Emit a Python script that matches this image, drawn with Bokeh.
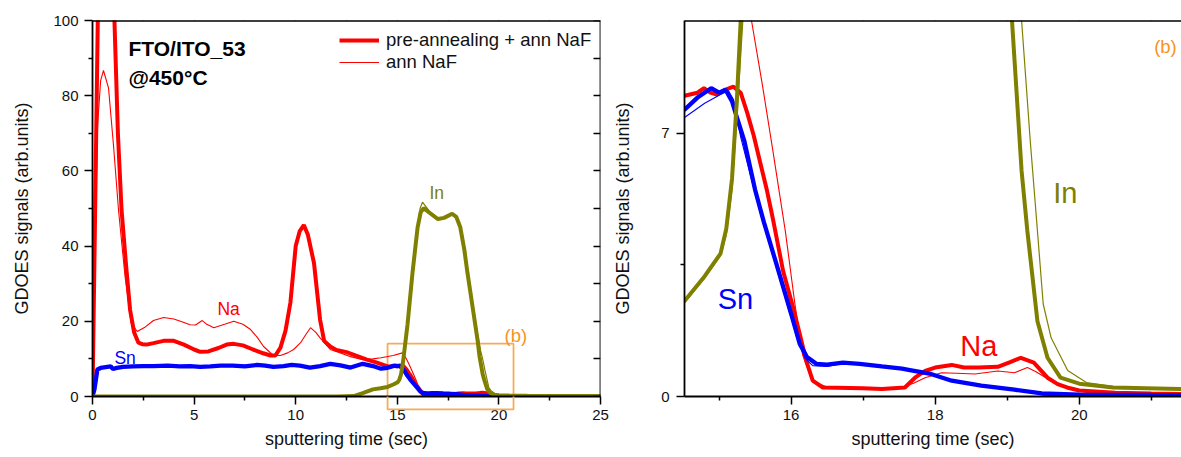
from bokeh.plotting import figure
from bokeh.layouts import row
from bokeh.models import (Range1d, LinearAxis, FixedTicker, Legend, LegendItem)
from bokeh.core.properties import value
from bokeh.embed import file_html
from bokeh.resources import INLINE

FONT = "Liberation Sans"

# ---------------- data ----------------
na_pre_t = [0, 0.1, 0.26, 0.5, 0.8, 1.08, 1.25, 1.43, 1.65, 1.85, 2.05, 2.26, 2.45, 2.66, 3.0, 3.5, 4.0, 4.5,
            5.0, 5.3, 5.7, 6.2, 6.6, 6.95, 7.4, 7.9, 8.4, 8.76, 9.0, 9.25, 9.5, 9.74, 10.0, 10.2, 10.4, 10.6,
            10.9, 11.2, 11.4, 11.7, 12.0, 12.5, 13.0, 13.5, 14.0, 14.52, 14.7, 14.79, 14.88, 14.97, 15.09,
            15.2, 15.3, 15.39, 15.48, 15.57, 15.66, 15.75, 15.89, 16.03, 16.12, 16.21, 16.3, 16.44, 17.0,
            17.26, 17.58, 17.72, 17.86, 18.0, 18.23, 18.4, 18.6, 18.87, 19.05, 19.19, 19.37, 19.56, 19.7,
            19.83, 20.0, 20.5, 21.0, 22.0, 25.0]
na_pre_v = [0, 38, 100, 130, 130, 100, 70, 49.6, 35, 23, 17, 14.3, 13.9, 13.8, 14.2, 14.8, 14.8, 13.8,
            12.5, 11.9, 12.0, 12.9, 13.8, 14.0, 13.6, 12.5, 11.5, 10.9, 10.9, 13, 17.5, 25, 40, 44, 45.6, 43,
            35.5, 20.4, 14.8, 13.3, 12.4, 11.8, 10.8, 9.8, 9.0, 8.0, 8.08, 8.2, 8.08, 8.03, 8.16,
            8.24, 8.08, 7.55, 6.95, 6.23, 5.52, 4.7, 3.33, 2.35, 1.66, 0.95, 0.42, 0.24, 0.22,
            0.2, 0.24, 0.5, 0.68, 0.77, 0.84, 0.77, 0.77, 0.79, 0.92, 1.03, 0.9, 0.5, 0.33,
            0.24, 0.16, 0.1, 0.08, 0.05, 0.03]

na_ann_t = [0, 0.1, 0.25, 0.4, 0.54, 0.79, 1.03, 1.28, 1.6, 1.9, 2.2, 2.6, 3.0, 3.5, 4.0, 4.33, 4.8, 5.07,
            5.4, 5.6, 5.97, 6.5, 6.95, 7.4, 7.78, 8.1, 8.42, 8.9, 9.25, 9.6, 9.9, 10.24, 10.5, 10.73, 11.0,
            11.2, 11.7, 12.2, 12.7, 13.3, 13.8, 14.2, 14.8, 15.25, 15.45, 15.6, 15.75, 15.92, 16.05, 16.16,
            16.3, 16.5, 17.0, 17.5, 17.7, 17.86, 18.09, 18.3, 18.55, 18.87, 19.1, 19.28, 19.4, 19.56, 19.8,
            20.0, 20.5, 21.0, 22.0, 25.0]
na_ann_v = [0, 35, 72, 84, 86.7, 82, 67, 49.6, 32, 19.6, 17.3, 18.5, 20.2, 21, 20.6, 20, 19.1, 19.0,
            20.2, 19.3, 18.3, 19.2, 20, 19.2, 17.8, 15.8, 13.3, 10.9, 10.9, 11.6, 12.5, 14.3, 16.5, 18.3, 17.0,
            15.6, 12.5, 11.6, 10.6, 9.8, 10.0, 10.3, 10.9, 11.6, 10.0, 8.3, 6.5, 4.4, 2.5, 1.1,
            0.4, 0.25, 0.22, 0.22, 0.35, 0.5, 0.63, 0.62, 0.6, 0.68, 0.63, 0.77, 0.66, 0.47, 0.25,
            0.15, 0.1, 0.08, 0.05, 0.03]

sn_pre_t = [0, 0.1, 0.24, 0.4, 0.65, 0.9, 1.0, 1.2, 1.5, 2.0, 2.5, 3.0, 3.7, 4.3, 4.8, 5.3, 5.8, 6.3, 6.9,
            7.5, 8.1, 8.5, 8.9, 9.4, 9.8, 10.2, 10.7, 11.2, 11.7, 12.2, 12.7, 13.3, 13.8, 14.2, 14.52, 14.7,
            14.89, 15.0, 15.09, 15.18, 15.24, 15.35, 15.5, 15.62, 15.8, 16.0, 16.12, 16.22, 16.35, 16.5,
            16.72, 16.95, 17.26, 17.54, 17.63, 17.94, 18.23, 18.64, 19.1, 19.48, 20.0, 21.0, 25.0]
sn_pre_v = [0, 2, 7.2, 7.6, 7.8, 8.0, 7.3, 7.6, 7.9, 8.0, 8.1, 8.1, 8.2, 8.0, 8.1, 7.9, 8.0, 8.2, 8.2,
            8.0, 8.4, 8.2, 7.9, 8.1, 8.4, 8.2, 7.7, 8.1, 8.7, 8.3, 7.7, 8.7, 8.1, 7.4, 7.63, 7.95,
            8.2, 8.08, 8.16, 7.85, 7.47, 6.8, 5.5, 4.65, 3.5, 2.2, 1.4, 1.05, 0.87, 0.85,
            0.9, 0.87, 0.8, 0.74, 0.71, 0.6, 0.42, 0.29, 0.18, 0.08, 0.05, 0.04, 0.02]

sn_ann_t = [0, 0.1, 0.24, 0.4, 0.65, 0.9, 1.0, 1.2, 1.5, 2.0, 3.0, 3.7, 4.8, 5.3, 6.3, 6.9, 8.1, 8.9, 9.8,
            10.7, 11.7, 12.7, 13.3, 14.2, 14.52, 14.8, 15.02, 15.13, 15.2, 15.3, 15.5, 15.6, 15.8, 16.0,
            16.1, 16.2, 16.3, 16.5, 16.72, 16.95, 17.26, 17.63, 17.94, 18.23, 18.64, 19.1, 19.48, 20.0,
            21.0, 25.0]
sn_ann_v = [0, 1.8, 6.8, 7.5, 7.9, 8.1, 7.5, 7.6, 7.9, 8.0, 8.1, 8.2, 8.1, 7.9, 8.2, 8.2, 8.4, 7.9, 8.4,
            7.7, 8.6, 7.8, 8.6, 7.5, 7.42, 7.8, 8.03, 8.13, 7.9, 6.9, 5.4, 4.7, 3.4, 2.1,
            1.45, 1.0, 0.82, 0.8, 0.88, 0.85, 0.8, 0.71, 0.6, 0.42, 0.29, 0.18, 0.08, 0.05,
            0.04, 0.02]

in_pre_t = [0, 12.0, 12.85, 13.3, 13.8, 14.17, 14.52, 14.8, 15.02, 15.1, 15.18, 15.25, 15.3, 15.5, 15.75,
            16.0, 16.15, 16.3, 16.6, 17.0, 17.3, 17.7, 17.9, 18.1, 18.3, 18.45, 18.7, 18.95, 19.05, 19.2,
            19.28, 19.42, 19.56, 19.74, 20.0, 20.47, 21.4, 25.0]
in_pre_v = [0, 0, 0.1, 0.9, 1.9, 2.2, 2.54, 3.2, 3.8, 4.46, 5.8, 8.0, 10.0, 19, 33,
            45, 49, 50.1, 48.8, 47.2, 47.5, 48.6, 47.8, 45, 39, 33, 24, 15, 10.5, 6.0,
            4.4, 2.0, 1.03, 0.5, 0.34, 0.24, 0.2, 0.15]

in_ann_t = [0, 12.0, 12.85, 13.3, 13.8, 14.17, 14.52, 14.8, 15.02, 15.1, 15.18, 15.25, 15.33, 15.5, 15.75,
            16.0, 16.12, 16.24, 16.6, 17.0, 17.3, 17.7, 17.9, 18.1, 18.3, 18.45, 18.7, 18.95, 19.1, 19.2,
            19.32, 19.42, 19.5, 19.61, 19.84, 20.1, 20.5, 21.4, 25.0]
in_ann_v = [0, 0, 0.1, 0.9, 1.9, 2.2, 2.5, 3.15, 3.75, 4.3, 5.5, 7.5, 10.0, 18, 32,
            45, 50, 51.7, 49.2, 47.4, 47.6, 48.7, 48.0, 45.5, 39.5, 34, 25, 16.5, 12.2, 10.0,
            6.8, 4.4, 2.46, 1.56, 0.69, 0.37, 0.26, 0.2, 0.15]

left_xticks = [0, 5, 10, 15, 20, 25]
left_xminor = [2.5, 7.5, 12.5, 17.5, 22.5]
left_yticks = [0, 20, 40, 60, 80, 100]
left_yminor = [10, 30, 50, 70, 90]
left_right_ticks = [0, 10, 20, 30, 40, 50, 60, 70, 80, 90, 100]
right_xticks = [16, 18, 20]
right_xminor = [15, 17, 19, 21]
right_yticks = [0, 7]
right_yminor = [3.5]

# zoom box (b): t from 14.52 to 20.72, signal from -3.45 to 14.06
box_t = [14.52, 20.72]
box_v = [-3.45, 14.06]

RED = "#ff0000"
BLUE = "#0000ff"
OLIVE = "#808000"
ORANGE = "#f7931e"
BOXC = "#f6ab5a"

TICK_FS = "15px"
LAB_FS = "18px"


def style_axis(ax, major, minor, out_major=8, out_minor=4):
    ax.ticker = FixedTicker(ticks=major, minor_ticks=minor)
    ax.axis_line_width = 1.8
    ax.axis_line_color = "black"
    ax.major_tick_line_width = 1.5
    ax.minor_tick_line_width = 1.5
    ax.major_tick_line_color = "black"
    ax.minor_tick_line_color = "black"
    ax.major_tick_out = out_major
    ax.minor_tick_out = out_minor
    ax.major_tick_in = 0
    ax.minor_tick_in = 0
    ax.major_label_text_font = FONT
    ax.major_label_text_color = "#111111"
    ax.major_label_text_font_size = TICK_FS
    ax.axis_label_text_font = FONT
    ax.axis_label_text_font_style = "normal"
    ax.axis_label_text_font_size = LAB_FS
    ax.axis_label_text_color = "#111111"


def tick_axis(p, side, ticks, length, inward=False, loc=None):
    # an axis that carries only (minor) tick marks, hence no tick labels at all
    ax = LinearAxis(ticker=FixedTicker(ticks=[], minor_ticks=ticks))
    ax.axis_line_color = "black"
    ax.axis_line_width = 1.8
    ax.major_tick_out = 0
    ax.major_tick_in = 0
    ax.minor_tick_line_color = "black"
    ax.minor_tick_line_width = 1.5
    ax.minor_tick_out = 0 if inward else length
    ax.minor_tick_in = length if inward else 0
    ax.major_label_standoff = 0
    if loc is not None:
        ax.fixed_location = loc
    p.add_layout(ax, side)
    return ax


def draw_series(p):
    r1 = p.line(na_pre_t, na_pre_v, line_color=RED, line_width=4)
    r2 = p.line(na_ann_t, na_ann_v, line_color=RED, line_width=1.1)
    p.line(sn_pre_t, sn_pre_v, line_color=BLUE, line_width=4.3)
    p.line(sn_ann_t, sn_ann_v, line_color=BLUE, line_width=1.1)
    p.line(in_pre_t, in_pre_v, line_color=OLIVE, line_width=4)
    p.line(in_ann_t, in_ann_v, line_color=OLIVE, line_width=1.2)
    return r1, r2


# ---------------- left panel ----------------
p1 = figure(width=610, height=457, output_backend="svg", toolbar_location=None,
            x_range=Range1d(0, 25), y_range=Range1d(0, 100),
            min_border_left=92, min_border_right=10, min_border_top=20, min_border_bottom=60,
            x_axis_label="sputtering time (sec)", y_axis_label="GDOES signals (arb.units)")
p1.outline_line_color = None
p1.grid.visible = False
p1.background_fill_color = "white"
p1.border_fill_color = "white"

style_axis(p1.xaxis[0], left_xticks, left_xminor)
p1.xaxis[0].major_label_standoff = 5
p1.xaxis[0].axis_label_standoff = 6
style_axis(p1.yaxis[0], left_yticks, left_yminor)
p1.yaxis[0].major_label_standoff = 6
p1.yaxis[0].axis_label_standoff = 18

tick_axis(p1, "above", left_xticks, 7, loc=100)
tick_axis(p1, "above", left_xminor, 4, loc=100)
tick_axis(p1, "right", left_right_ticks, 7, inward=True, loc=25)

# zoom box (b): the part inside the frame sits behind the curves ...
floor = p1.y_range.start
p1.line([box_t[0], box_t[0], box_t[1], box_t[1]], [floor, box_v[1], box_v[1], floor],
        line_color=BOXC, line_width=1.8)

ra, rb = draw_series(p1)

# ... and the part below the axis is drawn at overlay level so it may leave the frame
rbox = p1.line([box_t[0], box_t[0], box_t[1], box_t[1]], [floor, box_v[0], box_v[0], floor],
               line_color=BOXC, line_width=1.8)
rbox.level = "overlay"

p1.text(x=[1.77], y=[92.6], text=["FTO/ITO_53"], text_font=value(FONT), text_font_size="21px",
        text_font_style="bold", text_color="black", text_baseline="alphabetic")
p1.text(x=[1.77], y=[84.9], text=["@450°C"], text_font=value(FONT), text_font_size="21px",
        text_font_style="bold", text_color="black", text_baseline="alphabetic")
p1.text(x=[6.15], y=[23.3], text=["Na"], text_font=value(FONT), text_font_size="17.5px",
        text_color=RED, text_baseline="alphabetic")
p1.text(x=[1.08], y=[10.3], text=["Sn"], text_font=value(FONT), text_font_size="17.5px",
        text_color=BLUE, text_baseline="alphabetic")
p1.text(x=[16.58], y=[54.1], text=["In"], text_font=value(FONT), text_font_size="17.5px",
        text_color=OLIVE, text_baseline="alphabetic")
p1.text(x=[20.28], y=[16.2], text=["(b)"], text_font=value(FONT), text_font_size="18.5px",
        text_color=ORANGE, text_baseline="alphabetic")

legend = Legend(items=[LegendItem(label="pre-annealing + ann NaF", renderers=[ra]),
                       LegendItem(label="ann NaF", renderers=[rb])],
                location=(247, 323), margin=0, padding=0, spacing=0,
                glyph_width=40, glyph_height=22, label_height=22, label_standoff=7,
                label_text_font=FONT, label_text_font_size="18.5px", label_text_color="#111111",
                border_line_alpha=0, background_fill_alpha=0)
p1.add_layout(legend)

# ---------------- right panel ----------------
p2 = figure(width=571, height=457, output_backend="svg", toolbar_location=None,
            x_range=Range1d(14.52, 21.42), y_range=Range1d(0, 10),
            min_border_left=70, min_border_right=0, min_border_top=17, min_border_bottom=61,
            x_axis_label="sputtering time (sec)", y_axis_label="GDOES signals (arb.units)")
p2.outline_line_color = None
p2.grid.visible = False
style_axis(p2.xaxis[0], right_xticks, right_xminor)
p2.xaxis[0].major_label_standoff = 5
p2.xaxis[0].axis_label_standoff = 6
style_axis(p2.yaxis[0], right_yticks, right_yminor)
p2.yaxis[0].major_label_standoff = 7
p2.yaxis[0].axis_label_standoff = 25
tick_axis(p2, "above", right_xticks, 7, loc=10)
tick_axis(p2, "above", right_xminor, 4, loc=10)

draw_series(p2)

p2.text(x=[14.98], y=[2.59], text=["Sn"], text_font=value(FONT), text_font_size="29px",
        text_color=BLUE, text_baseline="alphabetic")
p2.text(x=[18.35], y=[1.35], text=["Na"], text_font=value(FONT), text_font_size="29px",
        text_color=RED, text_baseline="alphabetic")
p2.text(x=[19.64], y=[5.41], text=["In"], text_font=value(FONT), text_font_size="29px",
        text_color=OLIVE, text_baseline="alphabetic")
p2.text(x=[21.04], y=[9.3], text=["(b)"], text_font=value(FONT), text_font_size="18.5px",
        text_color=ORANGE, text_baseline="alphabetic")

layout = row(p1, p2)
open("out.html", "w").write(file_html(layout, INLINE))
